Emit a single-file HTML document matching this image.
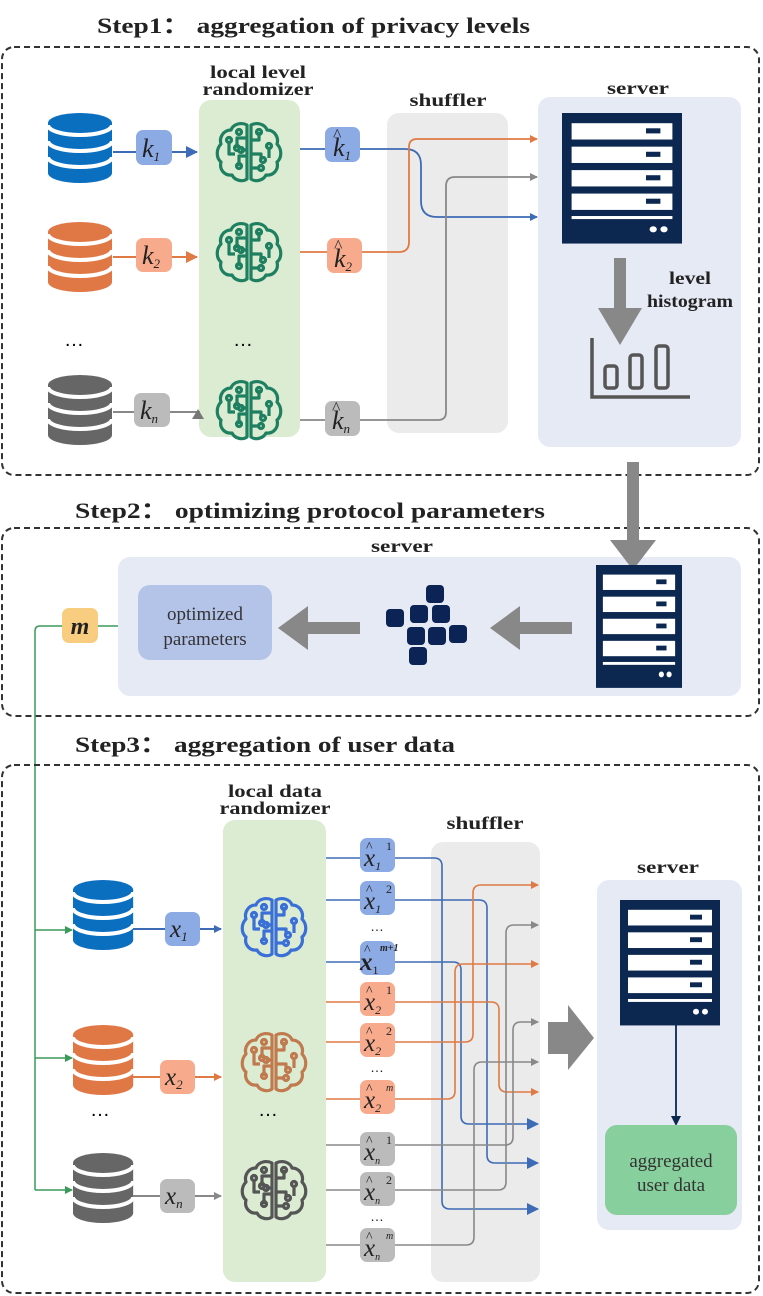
<!DOCTYPE html>
<html><head><meta charset="utf-8"><style>
html,body{margin:0;padding:0;background:#fff}
svg{display:block}
.t{font-family:"Liberation Serif",serif;font-weight:bold;fill:#222}
.m{font-family:"Liberation Serif",serif;font-style:italic;fill:#222}
.s{font-family:"Liberation Serif",serif;fill:#333}
</style></head><body>
<svg width="763" height="1296" viewBox="0 0 763 1296" xmlns="http://www.w3.org/2000/svg">
<defs>
<g id="db">
<rect x="0" y="10" width="64" height="50" />
<ellipse cx="32" cy="60" rx="32" ry="10"/>
<ellipse cx="32" cy="10" rx="32" ry="10"/>
<path d="M0,12 A32,10 0 0 0 64,12 M0,28 A32,10 0 0 0 64,28 M0,44 A32,10 0 0 0 64,44" fill="none" stroke="#fff" stroke-width="4"/>
</g>
<g id="brain" fill="none" stroke-width="3.2" stroke-linejoin="round">
<path d="M-2,-27 C-8,-30 -16,-28 -18,-22 C-26,-22 -30,-14 -28,-8 C-33,-3 -33,6 -28,10 C-30,18 -24,24 -17,23 C-14,29 -6,30 -2,27 Z"/>
<path d="M2,-27 C8,-30 16,-28 18,-22 C26,-22 30,-14 28,-8 C33,-3 33,6 28,10 C30,18 24,24 17,23 C14,29 6,30 2,27 Z"/>
<path d="M-2,-14 H-12 V-4 M-2,4 H-10 V14 M-20,-10 V2 H-14 M-2,-2 H-8"/>
<path d="M2,-12 H10 V-20 M2,2 H12 V8 M20,-4 V6 M2,16 H10"/>
<circle cx="-12" cy="-4" r="2.5"/><circle cx="-10" cy="14" r="2.5"/><circle cx="-20" cy="-12" r="2.5"/><circle cx="-10" cy="-20" r="2.5"/>
<circle cx="10" cy="-20" r="2.5"/><circle cx="14" cy="8" r="2.5"/><circle cx="20" cy="-6" r="2.5"/><circle cx="12" cy="16" r="2.5"/><circle cx="-8" cy="-2" r="2.5"/>
</g>
<g id="srv">
<rect x="0" y="0" width="100" height="128" fill="#0c2850"/>
<rect x="8" y="10" width="84" height="16" fill="#fff"/><rect x="70" y="15" width="12" height="5" fill="#0c2850"/>
<rect x="8" y="33" width="84" height="16" fill="#fff"/><rect x="70" y="38" width="12" height="5" fill="#0c2850"/>
<rect x="8" y="56" width="84" height="16" fill="#fff"/><rect x="70" y="61" width="12" height="5" fill="#0c2850"/>
<rect x="8" y="79" width="84" height="16" fill="#fff"/><rect x="70" y="84" width="12" height="5" fill="#0c2850"/>
<rect x="8" y="101" width="84" height="3" fill="#fff"/>
<circle cx="76" cy="114" r="3" fill="#fff"/><circle cx="85" cy="114" r="3" fill="#fff"/>
</g>
<marker id="ab" markerWidth="8" markerHeight="8" refX="7" refY="4" orient="auto" markerUnits="userSpaceOnUse"><path d="M0,0 L8,4 L0,8Z" fill="#3d6bb5"/></marker>
<marker id="ao" markerWidth="8" markerHeight="8" refX="7" refY="4" orient="auto" markerUnits="userSpaceOnUse"><path d="M0,0 L8,4 L0,8Z" fill="#e07a45"/></marker>
<marker id="ag" markerWidth="8" markerHeight="8" refX="7" refY="4" orient="auto" markerUnits="userSpaceOnUse"><path d="M0,0 L8,4 L0,8Z" fill="#888"/></marker>
<marker id="agr" markerWidth="8" markerHeight="8" refX="7" refY="4" orient="auto" markerUnits="userSpaceOnUse"><path d="M0,0 L8,4 L0,8Z" fill="#3a9a5a"/></marker>
<marker id="ab2" markerWidth="12" markerHeight="12" refX="11" refY="6" orient="auto" markerUnits="userSpaceOnUse"><path d="M0,0 L12,6 L0,12Z" fill="#3d6bb5"/></marker>
<marker id="ao2" markerWidth="12" markerHeight="12" refX="11" refY="6" orient="auto" markerUnits="userSpaceOnUse"><path d="M0,0 L12,6 L0,12Z" fill="#e07a45"/></marker>
<marker id="ag2" markerWidth="12" markerHeight="12" refX="11" refY="6" orient="auto" markerUnits="userSpaceOnUse"><path d="M0,0 L12,6 L0,12Z" fill="#888"/></marker>
</defs>

<!-- STEP 1 -->
<text class="t" x="97" y="33" font-size="22" textLength="433" lengthAdjust="spacingAndGlyphs">Step1：  aggregation of privacy levels</text>
<rect x="2" y="47" width="757" height="428" rx="12" fill="none" stroke="#333" stroke-width="2" stroke-dasharray="6,4"/>
<rect x="199" y="100" width="101" height="337" rx="12" fill="#dbecd3"/>
<text class="t" x="258" y="78" font-size="18" text-anchor="middle" textLength="96" lengthAdjust="spacingAndGlyphs">local level</text>
<text class="t" x="258" y="95" font-size="18" text-anchor="middle" textLength="111" lengthAdjust="spacingAndGlyphs">randomizer</text>
<rect x="387" y="113" width="121" height="320" rx="12" fill="#ebebeb"/>
<text class="t" x="448" y="106" font-size="18" text-anchor="middle" textLength="77" lengthAdjust="spacingAndGlyphs">shuffler</text>
<rect x="538" y="97" width="203" height="350" rx="12" fill="#e6eaf5"/>
<text class="t" x="638" y="94" font-size="18" text-anchor="middle" textLength="62" lengthAdjust="spacingAndGlyphs">server</text>
<use href="#srv" transform="translate(562,113) scale(1.2,1.02)"/>
<path d="M614,258 H626 V308 H642 L620,345 L598,308 H614Z" fill="#888"/>
<text class="t" x="690" y="284" font-size="18" text-anchor="middle" textLength="42" lengthAdjust="spacingAndGlyphs">level</text>
<text class="t" x="690" y="307" font-size="18" text-anchor="middle" textLength="86" lengthAdjust="spacingAndGlyphs">histogram</text>
<path d="M592,338 V397 H690" fill="none" stroke="#555" stroke-width="3.5"/>
<rect x="605" y="366" width="12" height="22" rx="3" fill="none" stroke="#555" stroke-width="3.5"/>
<rect x="630" y="355" width="12" height="33" rx="3" fill="none" stroke="#555" stroke-width="3.5"/>
<rect x="656" y="346" width="12" height="42" rx="3" fill="none" stroke="#555" stroke-width="3.5"/>

<use href="#db" transform="translate(48,113)" fill="#0b6fc0"/>
<use href="#db" transform="translate(48,222)" fill="#e07845"/>
<use href="#db" transform="translate(48,375)" fill="#666"/>
<text x="74" y="346" font-size="20" font-family="Liberation Sans" text-anchor="middle">…</text>
<text x="243" y="346" font-size="20" font-family="Liberation Sans" text-anchor="middle">…</text>

<line x1="113" y1="152" x2="197" y2="152" stroke="#3d6bb5" stroke-width="2" marker-end="url(#ab2)"/>
<line x1="113" y1="257" x2="197" y2="257" stroke="#e07a45" stroke-width="2" marker-end="url(#ao2)"/>
<line x1="113" y1="412" x2="200" y2="412" stroke="#888" stroke-width="2"/>
<path d="M192,419 L198,409 L204,419Z" fill="#777"/>
<rect x="136" y="130" width="36" height="35" rx="7" fill="#8caae3"/>
<text class="m" x="142" y="157" font-size="26">k<tspan font-size="13" dy="4">1</tspan></text>
<rect x="136" y="238" width="36" height="34" rx="7" fill="#f8ab8c"/>
<text class="m" x="142" y="264" font-size="26">k<tspan font-size="13" dy="4">2</tspan></text>
<rect x="134" y="393" width="36" height="34" rx="7" fill="#bbb"/>
<text class="m" x="140" y="419" font-size="26">k<tspan font-size="13" dy="4">n</tspan></text>

<use href="#brain" transform="translate(249,152)" stroke="#1e8060"/>
<use href="#brain" transform="translate(249,252)" stroke="#1e8060"/>
<use href="#brain" transform="translate(249,410)" stroke="#1e8060"/>

<path d="M300,149 H405 Q421,149 421,165 V201 Q421,217 437,217 H537" fill="none" stroke="#3d6bb5" stroke-width="1.8" marker-end="url(#ab)"/>
<path d="M300,252 H399 Q409,252 409,242 V147 Q409,139 417,139 H537" fill="none" stroke="#e07a45" stroke-width="1.8" marker-end="url(#ao)"/>
<path d="M300,420 H438 Q446,420 446,412 V186 Q446,177 455,177 H537" fill="none" stroke="#888" stroke-width="1.8" marker-end="url(#ag)"/>
<rect x="325" y="127" width="35" height="35" rx="7" fill="#8caae3"/>
<text class="m" x="333" y="156" font-size="26">k<tspan font-size="13" dy="4">1</tspan></text><text class="s" x="333" y="141" font-size="18">^</text>
<rect x="327" y="238" width="35" height="35" rx="7" fill="#f8ab8c"/>
<text class="m" x="334" y="267" font-size="26">k<tspan font-size="13" dy="4">2</tspan></text><text class="s" x="334" y="252" font-size="18">^</text>
<rect x="325" y="401" width="35" height="35" rx="7" fill="#bbb"/>
<text class="m" x="332" y="429" font-size="26">k<tspan font-size="13" dy="4">n</tspan></text><text class="s" x="332" y="414" font-size="18">^</text>

<!-- STEP 2 -->
<text class="t" x="75" y="518" font-size="22" textLength="470" lengthAdjust="spacingAndGlyphs">Step2：  optimizing protocol parameters</text>
<rect x="2" y="528" width="757" height="188" rx="12" fill="none" stroke="#333" stroke-width="2" stroke-dasharray="6,4"/>
<rect x="118" y="557" width="623" height="139" rx="12" fill="#e6eaf5"/>
<text class="t" x="402" y="552" font-size="18" text-anchor="middle" textLength="62" lengthAdjust="spacingAndGlyphs">server</text>
<path d="M627,462 H639 V540 H656 L633,570 L610,540 H627Z" fill="#888"/>
<use href="#srv" transform="translate(596,565) scale(0.86,0.96)"/>
<path d="M572,622 V634 H520 V650 L490,628 L520,606 V622Z" fill="#888"/>
<path d="M360,622 V634 H308 V650 L278,628 L308,606 V622Z" fill="#888"/>
<g fill="#0c2356">
<rect x="426" y="585" width="18" height="18" rx="4"/>
<rect x="410" y="605" width="18" height="18" rx="4"/><rect x="432" y="605" width="18" height="18" rx="4"/>
<rect x="386" y="609" width="18" height="18" rx="4"/>
<rect x="407" y="627" width="18" height="18" rx="4"/><rect x="428" y="627" width="18" height="18" rx="4"/><rect x="449" y="625" width="18" height="18" rx="4"/>
<rect x="409" y="647" width="18" height="18" rx="4"/>
</g>
<rect x="138" y="585" width="134" height="75" rx="12" fill="#b4c3e8"/>
<text class="s" x="205" y="620" font-size="19" text-anchor="middle">optimized</text>
<text class="s" x="205" y="645" font-size="19" text-anchor="middle">parameters</text>
<line x1="98" y1="626" x2="118" y2="626" stroke="#3a9a5a" stroke-width="1.5"/>
<path d="M62,626 H40 Q35,626 35,631 V1190" fill="none" stroke="#3a9a5a" stroke-width="1.5"/>
<rect x="62" y="608" width="36" height="35" rx="7" fill="#f9cd7f"/>
<text class="m" x="80" y="634" font-size="24" font-weight="bold" text-anchor="middle">m</text>

<!-- STEP 3 -->
<text class="t" x="75" y="752" font-size="22" textLength="380" lengthAdjust="spacingAndGlyphs">Step3：  aggregation of user data</text>
<rect x="2" y="765" width="757" height="528" rx="12" fill="none" stroke="#333" stroke-width="2" stroke-dasharray="6,4"/>
<rect x="223" y="820" width="103" height="462" rx="12" fill="#dbecd3"/>
<text class="t" x="275" y="797" font-size="18" text-anchor="middle" textLength="94" lengthAdjust="spacingAndGlyphs">local data</text>
<text class="t" x="275" y="814" font-size="18" text-anchor="middle" textLength="111" lengthAdjust="spacingAndGlyphs">randomizer</text>
<rect x="431" y="842" width="109" height="440" rx="12" fill="#ebebeb"/>
<text class="t" x="485" y="829" font-size="18" text-anchor="middle" textLength="77" lengthAdjust="spacingAndGlyphs">shuffler</text>
<rect x="597" y="880" width="145" height="350" rx="12" fill="#e6eaf5"/>
<text class="t" x="668" y="873" font-size="18" text-anchor="middle" textLength="62" lengthAdjust="spacingAndGlyphs">server</text>
<path d="M548,1022 H568 V1005 L594,1038 L568,1070 V1054 H548Z" fill="#888"/>
<use href="#srv" transform="translate(620,900) scale(1,0.98)"/>
<line x1="676" y1="1025" x2="676" y2="1123" stroke="#0c2850" stroke-width="1.8"/>
<path d="M671,1116 L676,1126 L681,1116Z" fill="#0c2850"/>
<rect x="605" y="1125" width="132" height="90" rx="12" fill="#87cf9c"/>
<text class="s" x="671" y="1167" font-size="19" text-anchor="middle">aggregated</text>
<text class="s" x="671" y="1191" font-size="19" text-anchor="middle">user data</text>

<path d="M35,930 H72" stroke="#3a9a5a" stroke-width="1.5" marker-end="url(#agr)"/>
<path d="M35,1058 H72" stroke="#3a9a5a" stroke-width="1.5" marker-end="url(#agr)"/>
<path d="M35,1190 H72" stroke="#3a9a5a" stroke-width="1.5" marker-end="url(#agr)"/>
<use href="#db" transform="translate(73,880) scale(0.94,1)" fill="#0b6fc0"/>
<use href="#db" transform="translate(73,1025) scale(0.94,1)" fill="#e07845"/>
<use href="#db" transform="translate(73,1153) scale(0.94,1)" fill="#666"/>
<text x="100" y="1116" font-size="20" font-family="Liberation Sans" text-anchor="middle">…</text>
<text x="268" y="1116" font-size="20" font-family="Liberation Sans" text-anchor="middle">…</text>

<line x1="133" y1="929" x2="221" y2="929" stroke="#3d6bb5" stroke-width="2" marker-end="url(#ab)"/>
<line x1="133" y1="1077" x2="221" y2="1077" stroke="#e07a45" stroke-width="2" marker-end="url(#ao)"/>
<line x1="133" y1="1196" x2="221" y2="1196" stroke="#888" stroke-width="2" marker-end="url(#ag)"/>
<rect x="165" y="912" width="35" height="34" rx="7" fill="#8caae3"/>
<text class="m" x="170" y="937" font-size="25">x<tspan font-size="13" dy="4">1</tspan></text>
<rect x="160" y="1060" width="35" height="34" rx="7" fill="#f8ab8c"/>
<text class="m" x="165" y="1085" font-size="25">x<tspan font-size="13" dy="4">2</tspan></text>
<rect x="160" y="1179" width="35" height="34" rx="7" fill="#bbb"/>
<text class="m" x="165" y="1204" font-size="25">x<tspan font-size="13" dy="4">n</tspan></text>

<use href="#brain" transform="translate(274,927)" stroke="#3a6fd8"/>
<use href="#brain" transform="translate(274,1062)" stroke="#c07a4e"/>
<use href="#brain" transform="translate(274,1190)" stroke="#555"/>

<g fill="none" stroke-width="1.6">
<path d="M326,858 H434 Q442,858 442,866 V1201 Q442,1209 450,1209 H538" stroke="#3d6bb5" marker-end="url(#ab2)"/>
<path d="M326,900 H479 Q487,900 487,908 V1155 Q487,1163 495,1163 H538" stroke="#3d6bb5" marker-end="url(#ab2)"/>
<path d="M326,962 H453 Q461,962 461,970 V1116 Q461,1124 469,1124 H538" stroke="#3d6bb5" marker-end="url(#ab2)"/>
<path d="M326,1002 H491 Q499,1002 499,1010 V1084 Q499,1092 507,1092 H538" stroke="#e07a45" marker-end="url(#ao)"/>
<path d="M326,1042 H465 Q473,1042 473,1034 V893 Q473,885 481,885 H538" stroke="#e07a45" marker-end="url(#ao)"/>
<path d="M326,1099 H447 Q455,1099 455,1091 V972 Q455,964 463,964 H538" stroke="#e07a45" marker-end="url(#ao)"/>
<path d="M326,1145 H505 Q513,1145 513,1137 V1030 Q513,1022 521,1022 H538" stroke="#888" marker-end="url(#ag)"/>
<path d="M326,1190 H498 Q506,1190 506,1182 V933 Q506,925 514,925 H538" stroke="#888" marker-end="url(#ag)"/>
<path d="M326,1245 H466 Q474,1245 474,1237 V1070 Q474,1062 482,1062 H538" stroke="#888" marker-end="url(#ag)"/>
</g>

<g font-family="Liberation Serif" font-style="italic" font-size="25" fill="#222">
<rect x="360" y="838" width="35" height="34" rx="7" fill="#8caae3"/><text x="364" y="866">x<tspan font-size="12" dy="4">1</tspan></text><text x="386" y="850" font-size="12" font-style="normal">1</text><text x="366" y="851" font-size="14" font-style="normal">^</text>
<rect x="360" y="881" width="35" height="34" rx="7" fill="#8caae3"/><text x="364" y="909">x<tspan font-size="12" dy="4">1</tspan></text><text x="386" y="893" font-size="12" font-style="normal">2</text><text x="366" y="894" font-size="14" font-style="normal">^</text>
<rect x="360" y="941" width="35" height="34" rx="7" fill="#8caae3"/><text x="360" y="970" font-weight="bold">x<tspan font-size="12" dy="4" font-weight="normal" font-style="normal">1</tspan></text><text x="380" y="951" font-size="10" font-weight="bold">m+1</text><text x="364" y="954" font-size="14" font-style="normal">^</text>
<rect x="360" y="982" width="35" height="34" rx="7" fill="#f8ab8c"/><text x="364" y="1010">x<tspan font-size="12" dy="4">2</tspan></text><text x="386" y="994" font-size="12" font-style="normal">1</text><text x="366" y="995" font-size="14" font-style="normal">^</text>
<rect x="360" y="1023" width="35" height="34" rx="7" fill="#f8ab8c"/><text x="364" y="1051">x<tspan font-size="12" dy="4">2</tspan></text><text x="386" y="1035" font-size="12" font-style="normal">2</text><text x="366" y="1036" font-size="14" font-style="normal">^</text>
<rect x="360" y="1080" width="35" height="34" rx="7" fill="#f8ab8c"/><text x="364" y="1108">x<tspan font-size="12" dy="4">2</tspan></text><text x="386" y="1091" font-size="10">m</text><text x="366" y="1093" font-size="14" font-style="normal">^</text>
<rect x="360" y="1132" width="35" height="34" rx="7" fill="#bbb"/><text x="364" y="1160">x<tspan font-size="10" dy="4">n</tspan></text><text x="386" y="1144" font-size="12" font-style="normal">1</text><text x="366" y="1145" font-size="14" font-style="normal">^</text>
<rect x="360" y="1172" width="35" height="34" rx="7" fill="#bbb"/><text x="364" y="1200">x<tspan font-size="10" dy="4">n</tspan></text><text x="386" y="1184" font-size="12" font-style="normal">2</text><text x="366" y="1185" font-size="14" font-style="normal">^</text>
<rect x="360" y="1228" width="35" height="34" rx="7" fill="#bbb"/><text x="364" y="1256">x<tspan font-size="10" dy="4">n</tspan></text><text x="386" y="1239" font-size="10">m</text><text x="366" y="1241" font-size="14" font-style="normal">^</text>
</g>
<g font-family="Liberation Sans" font-size="14" fill="#222" text-anchor="middle">
<text x="377" y="931">…</text><text x="377" y="1072">…</text><text x="377" y="1221">…</text>
</g>
</svg>
</body></html>
